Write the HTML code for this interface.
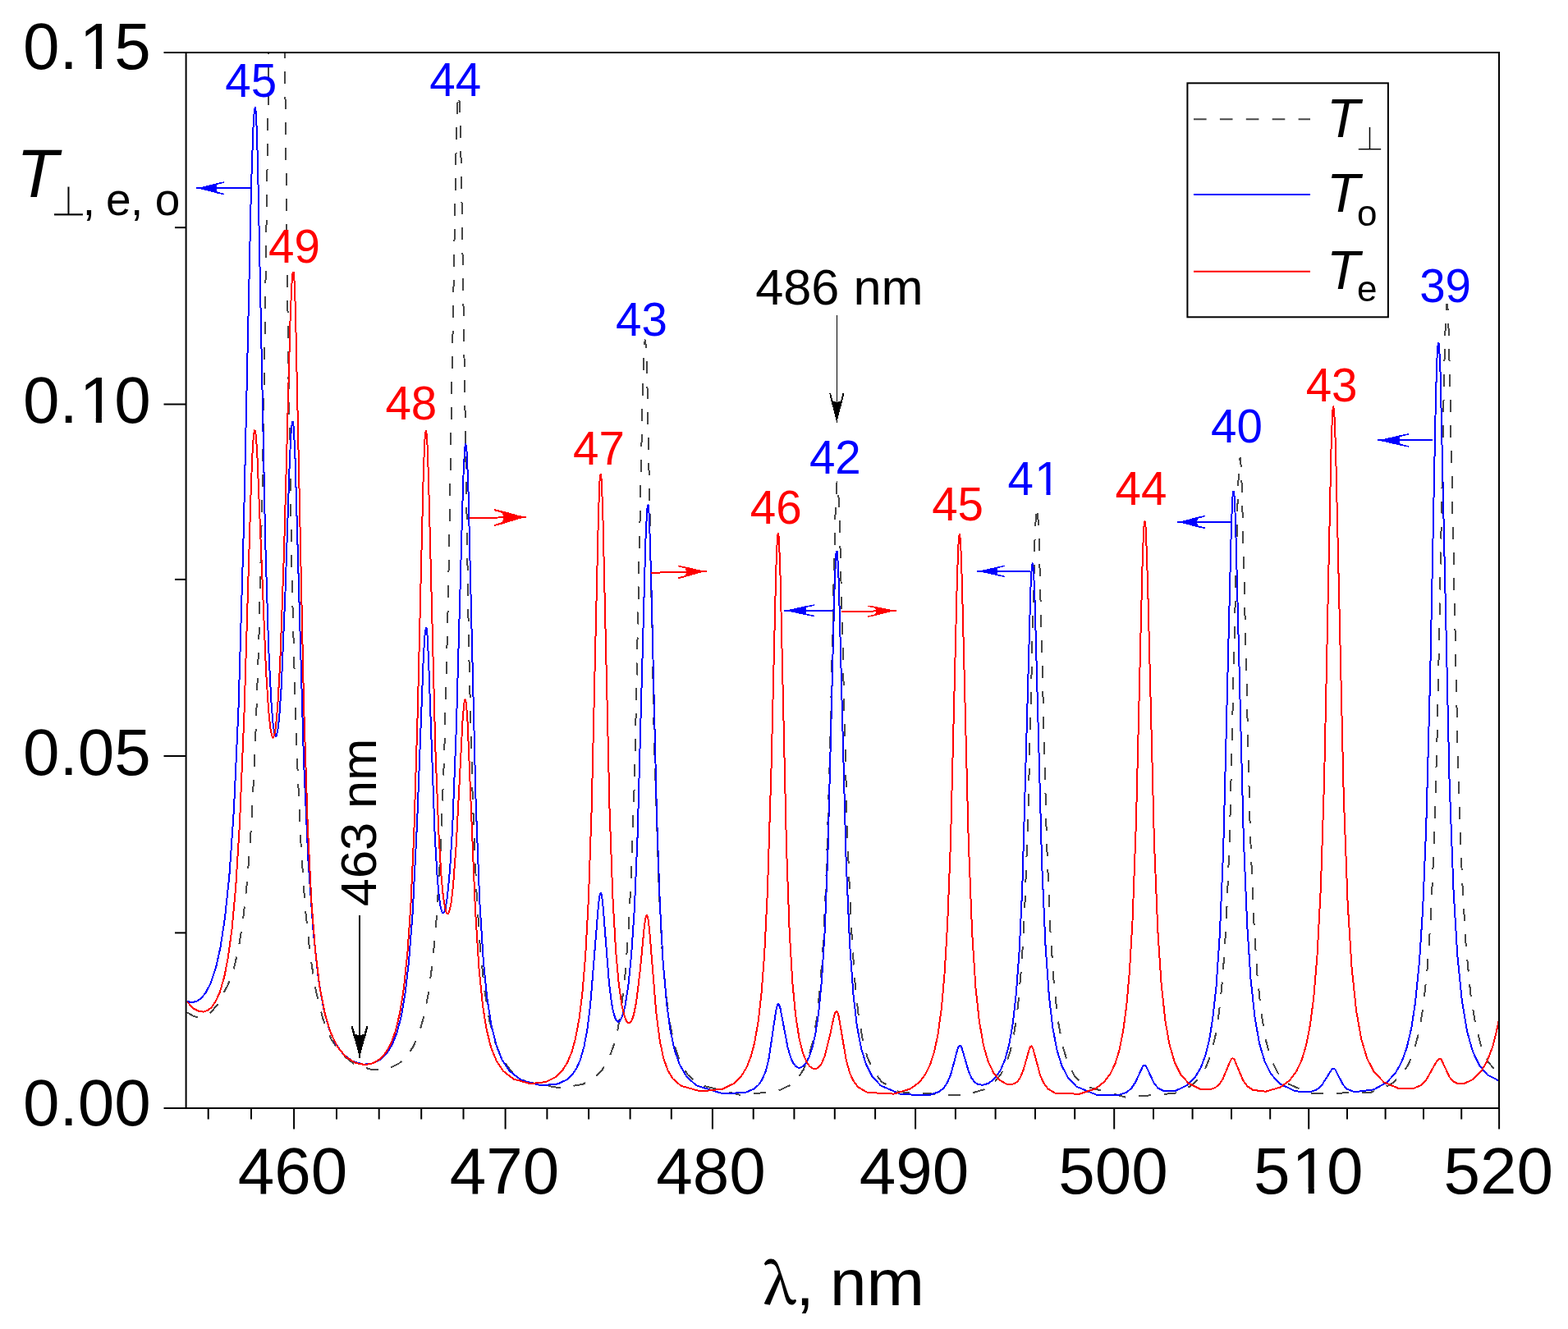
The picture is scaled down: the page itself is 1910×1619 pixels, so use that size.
<!DOCTYPE html>
<html><head><meta charset="utf-8"><title>Transmission spectra</title><style>
html,body{margin:0;padding:0;background:#fff;}
svg{display:block;}
</style></head><body>
<svg width="1910" height="1619" viewBox="0 0 1910 1619">
<rect width="1910" height="1619" fill="#fff"/>
<defs><mask id="m1" maskUnits="userSpaceOnUse" x="0" y="0" width="1910" height="1619"><rect width="1910" height="1619" fill="#fff"/><rect x="101.8" y="508.1" width="15.0" height="8.5" fill="#000"/><rect x="123.9" y="508.1" width="14.4" height="8.5" fill="#000"/><rect x="101.8" y="76.6" width="15.0" height="8.5" fill="#000"/><rect x="123.9" y="76.6" width="14.4" height="8.5" fill="#000"/><rect x="1578.7" y="1446.7" width="15.0" height="8.5" fill="#000"/><rect x="1600.8" y="1446.7" width="14.4" height="8.5" fill="#000"/><rect x="1263.6" y="597.7" width="10.9" height="6.7" fill="#000"/><rect x="1279.5" y="597.7" width="10.5" height="6.7" fill="#000"/></mask></defs>
<g mask="url(#m1)">
<defs><clipPath id="pc"><rect x="226.6" y="64.0" width="1599.4" height="1286.0"/></clipPath></defs>
<g clip-path="url(#pc)" fill="none" stroke-linejoin="round" shape-rendering="crispEdges">
<path d="M227.5,1233.1 236.2,1238.2 243.2,1239.5 249.5,1238.3 256.6,1233.8 265.2,1223.4 277.8,1199.4 284.9,1179.5 290.4,1156.5 295.8,1122.4 301.3,1071.6 306.0,1007.6 310.7,914.8 315.4,777.4 320.1,571.7 326.4,146.8 333.4,-444.1 335.0,-532.5 335.8,-562.6 336.5,-581.9 337.3,-589.6 338.1,-584.7 338.9,-565.9 340.4,-490.5 351.4,455.6 356.0,721.6 360.7,894.5 366.2,1022.7 371.6,1104.1 377.9,1164.2 384.9,1207.7 393.4,1241.4 403.5,1266.0 416.0,1284.0 432.3,1296.9 454.0,1303.5 472.5,1302.0 485.7,1295.8 495.7,1286.5 503.4,1274.9 510.4,1258.8 516.5,1237.5 521.9,1210.0 527.3,1169.1 531.9,1116.7 536.6,1038.4 541.2,918.5 545.8,735.2 555.0,206.5 556.6,146.8 557.3,127.8 558.1,117.1 558.9,115.1 559.6,123.7 560.4,142.8 561.9,208.7 571.1,790.0 575.7,971.5 580.3,1083.9 584.9,1154.6 590.3,1206.9 596.4,1244.1 603.3,1270.3 611.7,1290.0 622.4,1304.8 640.8,1317.8 681.9,1325.5 710.0,1320.9 724.4,1312.9 733.5,1303.5 741.1,1290.7 747.2,1274.8 752.5,1253.8 757.0,1227.0 761.5,1187.0 765.3,1137.1 769.1,1063.2 772.9,952.6 782.7,482.8 784.2,433.8 784.9,420.0 785.7,414.4 786.4,417.5 787.2,429.8 788.7,478.7 797.0,908.2 801.5,1058.9 806.0,1149.9 810.6,1205.8 815.8,1246.1 821.8,1274.3 828.6,1293.7 837.6,1309.1 851.1,1321.4 902.1,1334.0 946.8,1329.4 962.4,1322.0 972.1,1313.1 978.8,1302.8 984.7,1288.6 989.9,1269.3 994.4,1244.0 998.8,1204.8 1002.5,1154.2 1006.2,1076.7 1010.7,929.2 1017.3,632.0 1018.8,595.3 1019.6,587.5 1020.3,587.4 1021.0,594.4 1022.5,627.6 1032.1,1014.9 1036.6,1124.6 1041.0,1192.1 1045.4,1234.4 1050.6,1265.6 1056.5,1287.8 1063.9,1304.7 1074.2,1318.1 1094.8,1330.2 1173.2,1334.7 1199.5,1327.0 1211.1,1318.7 1219.1,1308.7 1225.7,1295.6 1230.8,1279.9 1235.8,1255.8 1240.2,1223.7 1244.6,1173.5 1248.2,1108.4 1252.5,986.0 1260.5,658.4 1262.0,625.5 1262.7,618.4 1263.4,618.1 1264.1,624.6 1265.6,655.6 1275.0,1025.5 1279.3,1131.5 1283.7,1196.9 1288.7,1243.2 1294.5,1274.7 1301.0,1295.7 1309.0,1310.8 1320.5,1322.9 1371.6,1336.8 1431.7,1331.7 1450.3,1323.2 1461.0,1313.1 1468.8,1300.5 1475.2,1283.7 1480.2,1263.5 1485.1,1232.3 1489.4,1190.5 1493.7,1124.8 1497.9,1019.2 1507.8,601.2 1509.3,566.5 1510.0,558.6 1510.7,557.6 1511.4,563.3 1512.8,593.8 1522.7,1007.7 1527.0,1116.5 1531.2,1184.5 1536.2,1233.4 1541.8,1267.1 1548.2,1289.8 1556.0,1306.3 1567.2,1319.5 1596.1,1332.2 1669.7,1330.9 1694.1,1321.2 1706.6,1310.3 1715.0,1297.9 1721.9,1281.4 1728.2,1258.2 1733.8,1225.3 1738.6,1179.9 1742.8,1119.4 1746.9,1025.6 1751.1,879.2 1759.4,442.2 1760.8,393.3 1761.5,378.4 1762.2,370.8 1762.9,370.6 1763.6,377.4 1764.9,409.9 1776.0,931.2 1780.9,1068.3 1785.7,1151.9 1791.2,1209.9 1797.4,1248.9 1804.3,1274.8 1812.6,1293.3 1823.6,1306.9 1825.7,1308.6" stroke="#474747" stroke-width="2" stroke-dasharray="15 16"/>
<path d="M227.5,1220.0 233.8,1221.1 239.3,1219.9 244.8,1216.3 250.3,1209.8 256.6,1197.8 262.9,1179.1 268.4,1154.6 273.9,1118.9 279.4,1066.2 284.9,986.9 290.4,866.1 296.6,653.0 306.0,227.0 308.4,157.2 309.2,143.1 309.9,134.3 310.7,131.0 311.5,135.2 312.3,147.4 313.9,193.8 323.2,659.7 327.2,789.4 330.3,853.8 332.6,882.3 334.2,892.7 335.0,895.5 335.8,896.8 336.5,896.4 337.3,894.4 338.9,885.7 340.4,870.5 342.8,835.3 347.5,721.0 352.9,559.2 354.5,528.7 355.3,519.2 356.0,514.3 356.8,514.1 357.6,519.6 359.2,547.5 370.1,929.0 375.5,1048.5 381.8,1136.6 388.0,1193.2 394.2,1228.9 401.2,1254.2 409.0,1271.7 418.3,1284.4 429.9,1293.1 443.1,1296.7 454.7,1295.3 464.0,1290.3 471.8,1282.4 478.0,1272.0 483.4,1258.4 488.8,1237.8 493.4,1211.3 498.0,1171.7 502.7,1111.3 508.1,1001.6 515.8,800.8 517.3,776.1 518.1,768.7 518.9,764.9 519.6,765.6 520.4,772.0 521.9,799.9 529.6,1015.6 532.7,1069.0 535.0,1093.8 536.6,1104.2 538.1,1110.3 538.9,1111.9 539.6,1112.5 540.4,1112.2 541.2,1111.1 542.7,1106.0 545.0,1091.6 548.1,1058.6 551.2,1007.3 555.8,888.0 564.2,585.0 565.8,552.8 566.5,544.1 567.3,541.0 568.1,544.2 568.8,554.6 570.4,594.6 579.6,976.7 584.2,1096.6 588.8,1170.3 593.4,1216.4 598.7,1250.3 604.9,1274.4 611.7,1291.3 620.9,1304.9 634.7,1315.7 659.1,1322.4 679.6,1320.4 690.3,1315.3 697.1,1309.0 702.4,1301.1 707.0,1290.7 711.5,1274.8 715.3,1254.5 719.1,1224.4 729.0,1102.2 730.5,1091.1 731.3,1088.5 732.0,1088.0 732.8,1090.0 734.3,1101.1 741.9,1196.8 744.9,1221.4 747.2,1233.3 749.4,1240.5 750.9,1243.3 752.5,1244.5 753.2,1244.7 754.7,1243.9 756.2,1241.9 758.5,1236.6 761.5,1224.8 765.3,1201.0 769.1,1163.6 772.9,1105.9 776.6,1018.5 786.4,658.5 788.0,625.1 788.7,616.9 789.5,614.9 790.2,620.2 791.0,632.7 793.2,705.5 800.0,993.3 803.8,1100.3 807.5,1170.0 812.1,1222.6 816.6,1255.4 821.8,1279.6 827.9,1296.9 836.1,1311.1 848.1,1322.3 880.4,1332.3 908.0,1330.9 918.5,1326.5 924.5,1321.1 928.9,1314.1 932.7,1304.9 936.4,1290.3 945.3,1230.8 946.8,1224.7 947.6,1223.3 948.3,1223.3 949.0,1224.1 950.5,1228.3 959.5,1275.7 963.2,1288.5 966.2,1295.0 969.1,1298.8 972.1,1300.5 975.1,1300.5 978.0,1299.0 981.8,1294.8 985.5,1287.8 989.9,1274.6 993.6,1257.7 997.3,1232.4 1001.0,1193.8 1004.7,1133.6 1008.4,1039.0 1016.6,714.0 1018.1,678.9 1018.8,671.5 1019.6,671.5 1020.3,678.4 1021.8,710.7 1030.6,1046.8 1035.1,1150.0 1039.5,1211.9 1043.9,1250.0 1049.1,1277.5 1055.0,1296.7 1062.4,1311.2 1072.7,1322.4 1097.7,1333.1 1131.5,1334.2 1143.2,1330.3 1149.1,1325.8 1153.5,1319.8 1157.9,1309.8 1166.6,1277.6 1168.1,1274.5 1168.8,1273.7 1169.5,1273.6 1170.3,1274.2 1171.7,1277.0 1179.8,1305.0 1183.4,1313.2 1187.1,1318.1 1191.4,1321.0 1197.3,1321.8 1204.6,1319.5 1211.8,1313.7 1218.4,1304.5 1224.2,1291.0 1229.3,1272.2 1233.7,1247.3 1238.0,1208.2 1241.7,1157.5 1245.3,1080.5 1255.4,717.1 1256.2,701.0 1256.9,690.5 1257.6,686.2 1258.3,688.4 1259.1,696.8 1260.5,730.5 1269.2,1053.8 1273.6,1153.3 1277.9,1213.8 1282.2,1251.1 1287.3,1278.4 1293.1,1297.5 1300.3,1311.8 1311.1,1323.6 1335.6,1333.7 1362.3,1334.2 1372.3,1330.6 1378.1,1325.9 1383.1,1318.4 1391.7,1299.8 1393.1,1298.1 1393.8,1297.8 1394.5,1297.7 1396.0,1298.8 1406.0,1320.0 1411.0,1325.8 1418.2,1329.3 1432.4,1328.6 1446.0,1322.1 1455.3,1313.1 1462.4,1301.3 1468.1,1286.4 1473.1,1266.3 1477.3,1240.4 1481.6,1201.0 1485.8,1138.5 1490.1,1037.5 1500.0,637.3 1501.5,605.5 1502.2,598.8 1502.9,598.7 1503.6,604.9 1505.0,634.6 1514.9,1023.6 1519.2,1126.8 1523.4,1191.6 1528.4,1238.5 1534.0,1270.8 1540.4,1292.6 1548.2,1308.3 1558.8,1320.2 1577.8,1329.3 1595.4,1330.3 1603.8,1327.5 1609.5,1323.0 1622.1,1303.0 1623.5,1301.9 1624.9,1301.7 1626.3,1302.7 1636.1,1321.6 1641.0,1326.8 1650.1,1330.3 1673.2,1327.4 1689.2,1318.6 1699.7,1307.4 1707.3,1293.8 1713.6,1276.4 1719.2,1252.7 1724.0,1221.3 1728.9,1172.6 1733.1,1108.0 1737.2,1008.6 1742.1,825.9 1749.0,481.6 1750.4,438.0 1751.1,424.7 1751.8,417.9 1752.5,417.9 1753.2,424.3 1754.6,455.2 1765.6,952.8 1770.5,1084.0 1775.3,1164.1 1780.9,1219.5 1787.1,1256.6 1794.0,1281.1 1802.3,1298.3 1811.9,1309.4 1824.3,1315.8 1825.7,1316.1" stroke="#0000ff" stroke-width="2"/>
<path d="M227.5,1220.0 236.2,1228.9 242.5,1232.1 248.0,1232.6 252.7,1231.0 257.4,1227.4 262.1,1221.0 267.6,1209.2 273.1,1190.6 277.8,1166.7 282.5,1131.9 287.2,1080.6 291.9,1004.7 297.4,871.4 306.0,587.4 307.6,550.4 308.4,537.4 309.2,528.7 309.9,524.4 310.7,524.6 311.5,528.7 313.1,547.8 324.0,817.1 327.2,866.3 329.5,888.3 331.1,896.1 331.8,898.0 332.6,898.5 333.4,897.6 334.2,895.3 335.8,886.4 338.1,862.2 341.2,808.0 345.9,675.4 353.7,384.7 355.3,348.3 356.0,337.2 356.8,331.5 357.6,331.5 358.4,338.8 359.9,376.3 370.1,859.7 374.8,1006.5 379.4,1099.0 384.1,1158.3 389.5,1202.8 395.8,1235.1 402.8,1258.2 411.3,1275.6 421.4,1287.7 433.1,1294.9 444.7,1297.1 454.7,1295.1 463.3,1289.9 470.2,1282.1 476.4,1270.9 481.8,1256.1 487.2,1233.5 491.9,1204.0 496.5,1159.0 500.4,1102.2 504.2,1018.0 508.8,865.1 515.8,575.1 517.3,537.4 518.1,527.6 518.9,524.6 519.6,528.6 520.4,539.4 521.9,578.8 530.4,913.0 534.3,1013.1 537.3,1064.3 539.6,1089.4 541.9,1105.1 543.5,1110.9 544.3,1112.5 545.0,1113.2 545.8,1113.0 546.6,1112.0 548.1,1107.4 549.6,1099.3 551.9,1080.0 555.8,1027.8 563.5,878.5 565.0,859.7 565.8,854.4 566.5,852.3 567.3,853.6 568.1,858.9 569.6,880.7 578.8,1105.5 583.4,1179.0 588.0,1224.9 592.6,1253.9 598.0,1275.6 604.9,1292.7 613.3,1305.0 625.5,1314.5 646.1,1320.2 665.2,1318.0 676.6,1312.3 685.0,1304.2 691.0,1294.6 696.4,1281.8 700.9,1265.6 705.5,1241.2 709.3,1210.8 713.1,1165.3 716.9,1095.3 720.6,987.1 729.0,625.0 730.5,586.5 731.3,578.2 732.0,578.1 732.8,586.3 734.3,625.3 742.6,988.0 746.4,1093.3 750.2,1159.6 754.0,1200.9 757.7,1226.1 760.8,1238.3 763.0,1243.7 764.6,1245.7 766.1,1246.4 766.8,1246.3 768.3,1245.0 769.8,1242.5 772.1,1235.7 775.1,1220.6 779.7,1182.7 784.9,1127.8 786.4,1118.2 787.2,1115.7 788.0,1115.0 788.7,1116.3 789.5,1119.7 791.0,1132.0 799.3,1233.5 803.8,1268.3 808.3,1289.4 813.6,1304.1 819.6,1314.1 829.4,1322.7 853.4,1329.5 880.4,1326.6 893.8,1320.0 902.8,1311.3 909.5,1300.3 914.8,1286.9 919.2,1269.9 923.7,1244.0 927.4,1211.3 931.2,1161.9 934.9,1085.7 939.4,940.6 945.3,692.7 946.8,657.7 947.6,650.1 948.3,650.1 949.0,658.9 950.5,700.7 958.0,1031.9 961.7,1134.6 965.4,1197.6 969.1,1236.6 973.6,1265.5 978.0,1283.0 982.5,1293.6 986.2,1298.9 989.2,1301.3 992.1,1302.2 995.1,1301.6 998.1,1299.4 1001.0,1295.1 1004.7,1286.3 1010.7,1262.5 1015.9,1237.9 1017.3,1233.6 1018.1,1232.4 1018.8,1231.8 1019.6,1232.1 1020.3,1233.3 1021.8,1238.4 1030.6,1290.8 1035.1,1307.0 1039.5,1316.8 1045.4,1324.4 1056.5,1330.9 1088.9,1332.6 1108.8,1326.5 1119.8,1318.5 1127.1,1309.0 1133.0,1297.1 1138.1,1281.0 1142.5,1260.1 1146.9,1228.0 1150.5,1186.9 1154.2,1124.4 1157.9,1028.5 1165.9,704.2 1167.4,665.0 1168.1,654.5 1168.8,650.9 1169.5,654.5 1170.3,664.9 1171.7,703.6 1179.8,1026.3 1184.2,1137.1 1188.5,1203.6 1192.9,1244.3 1198.0,1273.5 1203.8,1293.6 1210.4,1307.1 1217.7,1315.8 1225.7,1320.5 1231.5,1321.3 1235.8,1320.1 1239.5,1317.3 1243.1,1312.0 1246.7,1303.2 1254.0,1277.3 1255.4,1274.7 1256.2,1274.4 1256.9,1274.7 1258.3,1277.3 1267.0,1309.6 1271.4,1319.6 1276.4,1326.3 1285.1,1331.5 1314.7,1332.8 1334.2,1326.3 1345.0,1318.1 1352.9,1307.4 1358.7,1295.0 1363.7,1278.4 1368.0,1257.0 1372.3,1224.6 1375.9,1183.6 1379.5,1122.1 1383.8,1005.6 1391.7,682.1 1393.1,646.1 1393.8,637.1 1394.5,634.8 1395.3,639.1 1396.0,649.8 1398.1,712.9 1406.0,1027.4 1410.3,1133.3 1414.6,1198.6 1419.6,1244.7 1424.6,1272.7 1431.0,1294.5 1438.1,1308.8 1448.1,1319.9 1461.7,1326.6 1473.1,1327.4 1480.2,1325.1 1485.1,1321.0 1489.4,1314.8 1498.6,1292.5 1500.0,1290.3 1500.8,1289.6 1501.5,1289.4 1502.2,1289.5 1503.6,1290.8 1514.2,1316.1 1519.2,1323.1 1526.3,1327.9 1541.8,1329.7 1559.5,1324.5 1570.8,1316.2 1579.2,1305.0 1585.6,1291.5 1591.2,1272.8 1596.1,1247.5 1600.3,1214.5 1604.5,1163.7 1608.8,1083.0 1613.0,953.0 1621.4,550.7 1622.8,509.4 1623.5,498.7 1624.2,495.4 1624.9,499.0 1625.6,509.0 1627.0,545.8 1636.8,971.4 1641.7,1101.5 1646.6,1179.3 1652.2,1232.1 1658.5,1267.0 1665.5,1289.9 1673.9,1306.0 1685.7,1318.3 1704.6,1326.3 1721.3,1326.2 1730.3,1322.4 1737.2,1315.8 1750.4,1292.2 1752.5,1290.1 1753.9,1289.6 1754.6,1289.7 1755.9,1291.1 1765.6,1312.0 1769.8,1317.0 1775.3,1320.0 1783.6,1320.0 1794.7,1314.7 1804.3,1305.0 1811.9,1292.0 1818.8,1273.4 1824.3,1250.2 1825.7,1242.7" stroke="#ff0000" stroke-width="2"/>
</g>
<rect x="226.6" y="64.0" width="1599.4" height="1286.0" fill="none" stroke="#000" stroke-width="2"/>
<line x1="199.5" y1="64.0" x2="226.6" y2="64.0" stroke="#000" stroke-width="2"/>
<line x1="199.5" y1="492.5" x2="226.6" y2="492.5" stroke="#000" stroke-width="2"/>
<line x1="199.5" y1="921.0" x2="226.6" y2="921.0" stroke="#000" stroke-width="2"/>
<line x1="199.5" y1="1350.0" x2="226.6" y2="1350.0" stroke="#000" stroke-width="2"/>
<line x1="213" y1="277.2" x2="226.6" y2="277.2" stroke="#000" stroke-width="2"/>
<line x1="213" y1="705.9" x2="226.6" y2="705.9" stroke="#000" stroke-width="2"/>
<line x1="213" y1="1136.4" x2="226.6" y2="1136.4" stroke="#000" stroke-width="2"/>
<line x1="253.7" y1="1350.0" x2="253.7" y2="1363.5" stroke="#000" stroke-width="2"/>
<line x1="306.0" y1="1350.0" x2="306.0" y2="1363.5" stroke="#000" stroke-width="2"/>
<line x1="358.1" y1="1350.0" x2="358.1" y2="1375.5" stroke="#000" stroke-width="2"/>
<line x1="410.0" y1="1350.0" x2="410.0" y2="1363.5" stroke="#000" stroke-width="2"/>
<line x1="461.7" y1="1350.0" x2="461.7" y2="1363.5" stroke="#000" stroke-width="2"/>
<line x1="513.2" y1="1350.0" x2="513.2" y2="1363.5" stroke="#000" stroke-width="2"/>
<line x1="564.5" y1="1350.0" x2="564.5" y2="1363.5" stroke="#000" stroke-width="2"/>
<line x1="615.6" y1="1350.0" x2="615.6" y2="1375.5" stroke="#000" stroke-width="2"/>
<line x1="666.4" y1="1350.0" x2="666.4" y2="1363.5" stroke="#000" stroke-width="2"/>
<line x1="717.1" y1="1350.0" x2="717.1" y2="1363.5" stroke="#000" stroke-width="2"/>
<line x1="767.6" y1="1350.0" x2="767.6" y2="1363.5" stroke="#000" stroke-width="2"/>
<line x1="817.8" y1="1350.0" x2="817.8" y2="1363.5" stroke="#000" stroke-width="2"/>
<line x1="867.9" y1="1350.0" x2="867.9" y2="1375.5" stroke="#000" stroke-width="2"/>
<line x1="917.7" y1="1350.0" x2="917.7" y2="1363.5" stroke="#000" stroke-width="2"/>
<line x1="967.4" y1="1350.0" x2="967.4" y2="1363.5" stroke="#000" stroke-width="2"/>
<line x1="1016.8" y1="1350.0" x2="1016.8" y2="1363.5" stroke="#000" stroke-width="2"/>
<line x1="1066.1" y1="1350.0" x2="1066.1" y2="1363.5" stroke="#000" stroke-width="2"/>
<line x1="1115.1" y1="1350.0" x2="1115.1" y2="1375.5" stroke="#000" stroke-width="2"/>
<line x1="1163.9" y1="1350.0" x2="1163.9" y2="1363.5" stroke="#000" stroke-width="2"/>
<line x1="1212.6" y1="1350.0" x2="1212.6" y2="1363.5" stroke="#000" stroke-width="2"/>
<line x1="1261.0" y1="1350.0" x2="1261.0" y2="1363.5" stroke="#000" stroke-width="2"/>
<line x1="1309.2" y1="1350.0" x2="1309.2" y2="1363.5" stroke="#000" stroke-width="2"/>
<line x1="1357.2" y1="1350.0" x2="1357.2" y2="1375.5" stroke="#000" stroke-width="2"/>
<line x1="1405.0" y1="1350.0" x2="1405.0" y2="1363.5" stroke="#000" stroke-width="2"/>
<line x1="1452.6" y1="1350.0" x2="1452.6" y2="1363.5" stroke="#000" stroke-width="2"/>
<line x1="1500.0" y1="1350.0" x2="1500.0" y2="1363.5" stroke="#000" stroke-width="2"/>
<line x1="1547.2" y1="1350.0" x2="1547.2" y2="1363.5" stroke="#000" stroke-width="2"/>
<line x1="1594.2" y1="1350.0" x2="1594.2" y2="1375.5" stroke="#000" stroke-width="2"/>
<line x1="1641.0" y1="1350.0" x2="1641.0" y2="1363.5" stroke="#000" stroke-width="2"/>
<line x1="1687.6" y1="1350.0" x2="1687.6" y2="1363.5" stroke="#000" stroke-width="2"/>
<line x1="1734.0" y1="1350.0" x2="1734.0" y2="1363.5" stroke="#000" stroke-width="2"/>
<line x1="1780.2" y1="1350.0" x2="1780.2" y2="1363.5" stroke="#000" stroke-width="2"/>
<line x1="1826.1" y1="1350.0" x2="1826.1" y2="1375.5" stroke="#000" stroke-width="2"/>
<text x="28.0" y="1371.3" font-size="80" fill="#000" font-family="'Liberation Sans', Arial, sans-serif">0.00</text>
<text x="28.0" y="944.3" font-size="80" fill="#000" font-family="'Liberation Sans', Arial, sans-serif">0.05</text>
<text x="28.0" y="515.3" font-size="80" fill="#000" font-family="'Liberation Sans', Arial, sans-serif">0.<tspan dx="2.00">1</tspan><tspan dx="-2.00">0</tspan></text>
<text x="28.0" y="83.8" font-size="80" fill="#000" font-family="'Liberation Sans', Arial, sans-serif">0.<tspan dx="2.00">1</tspan><tspan dx="-2.00">5</tspan></text>
<text x="289.8" y="1453.9" font-size="80" fill="#000" font-family="'Liberation Sans', Arial, sans-serif">460</text>
<text x="547.8" y="1453.9" font-size="80" fill="#000" font-family="'Liberation Sans', Arial, sans-serif">470</text>
<text x="799.2" y="1453.9" font-size="80" fill="#000" font-family="'Liberation Sans', Arial, sans-serif">480</text>
<text x="1046.8" y="1453.9" font-size="80" fill="#000" font-family="'Liberation Sans', Arial, sans-serif">490</text>
<text x="1289.2" y="1453.9" font-size="80" fill="#000" font-family="'Liberation Sans', Arial, sans-serif">500</text>
<text x="1527.1" y="1453.9" font-size="80" fill="#000" font-family="'Liberation Sans', Arial, sans-serif">5<tspan dx="2.00">1</tspan><tspan dx="-2.00">0</tspan></text>
<text x="1758.4" y="1453.9" font-size="80" fill="#000" font-family="'Liberation Sans', Arial, sans-serif">520</text>
<text x="19.9" y="240" font-size="83" font-style="italic" font-family="'Liberation Sans', Arial, sans-serif">T</text>
<text x="61.2" y="262.6" font-size="51.5" stroke="#fff" stroke-width="1.1" font-family="'DejaVu Sans', sans-serif">⊥</text>
<text x="100.7" y="261.5" font-size="55" font-family="'Liberation Sans', Arial, sans-serif">,</text>
<text x="129" y="261.5" font-size="55" font-family="'Liberation Sans', Arial, sans-serif">e</text>
<text x="159.1" y="261.5" font-size="55" font-family="'Liberation Sans', Arial, sans-serif">,</text>
<text x="188.7" y="261.5" font-size="55" font-family="'Liberation Sans', Arial, sans-serif">o</text>
<text x="929.9" y="1588.1" font-size="67" stroke="#000" stroke-width="1.2" font-family="'Noto Serif CJK SC', 'DejaVu Serif', serif">λ</text>
<text y="1589.7" font-size="80" font-family="'Liberation Sans', Arial, sans-serif"><tspan x="969.6">,</tspan><tspan x="1011">n</tspan><tspan x="1055.3" textLength="71" lengthAdjust="spacingAndGlyphs">m</tspan></text>
<rect x="1446.4" y="101.3" width="244.5" height="285" fill="#fff" stroke="#000" stroke-width="2"/>
<line x1="1454" y1="145.3" x2="1596" y2="145.3" stroke="#474747" stroke-width="2" stroke-dasharray="15.6 16.3"/>
<line x1="1454" y1="237" x2="1596" y2="237" stroke="#0000ff" stroke-width="2"/>
<line x1="1454" y1="330.7" x2="1596" y2="330.7" stroke="#ff0000" stroke-width="2"/>
<text x="1615.9" y="166.9" font-size="66" font-style="italic" font-family="'Liberation Sans', Arial, sans-serif">T</text>
<text x="1615.9" y="258.1" font-size="66" font-style="italic" font-family="'Liberation Sans', Arial, sans-serif">T</text>
<text x="1615.9" y="352.2" font-size="66" font-style="italic" font-family="'Liberation Sans', Arial, sans-serif">T</text>
<text x="1650.8" y="182.6" font-size="40.5" stroke="#fff" stroke-width="0.8" font-family="'DejaVu Sans', sans-serif">⊥</text>
<text x="1653" y="275.3" font-size="44" font-family="'Liberation Sans', Arial, sans-serif">o</text>
<text x="1652.9" y="366.5" font-size="44" font-family="'Liberation Sans', Arial, sans-serif">e</text>
<text x="274.3" y="117.6" font-size="56.5" fill="#0000ff" font-family="'Liberation Sans', Arial, sans-serif">45</text>
<text x="523.3" y="117.3" font-size="56.5" fill="#0000ff" font-family="'Liberation Sans', Arial, sans-serif">44</text>
<text x="750.1" y="409.1" font-size="56.5" fill="#0000ff" font-family="'Liberation Sans', Arial, sans-serif">43</text>
<text x="985.9" y="577.0" font-size="56.5" fill="#0000ff" font-family="'Liberation Sans', Arial, sans-serif">42</text>
<text x="1227.5" y="603.1" font-size="56.5" fill="#0000ff" font-family="'Liberation Sans', Arial, sans-serif">4<tspan dx="1.41">1</tspan></text>
<text x="1475.1" y="538.6" font-size="56.5" fill="#0000ff" font-family="'Liberation Sans', Arial, sans-serif">40</text>
<text x="1729.2" y="368.4" font-size="56.5" fill="#0000ff" font-family="'Liberation Sans', Arial, sans-serif">39</text>
<text x="327.0" y="320.1" font-size="56.5" fill="#ff0000" font-family="'Liberation Sans', Arial, sans-serif">49</text>
<text x="469.4" y="511.4" font-size="56.5" fill="#ff0000" font-family="'Liberation Sans', Arial, sans-serif">48</text>
<text x="698.1" y="565.5" font-size="56.5" fill="#ff0000" font-family="'Liberation Sans', Arial, sans-serif">47</text>
<text x="913.8" y="637.5" font-size="56.5" fill="#ff0000" font-family="'Liberation Sans', Arial, sans-serif">46</text>
<text x="1135.2" y="634.4" font-size="56.5" fill="#ff0000" font-family="'Liberation Sans', Arial, sans-serif">45</text>
<text x="1358.5" y="614.8" font-size="56.5" fill="#ff0000" font-family="'Liberation Sans', Arial, sans-serif">44</text>
<text x="1590.7" y="489.0" font-size="56.5" fill="#ff0000" font-family="'Liberation Sans', Arial, sans-serif">43</text>
<text x="920.2" y="371.3" font-size="61.3" fill="#000" font-family="'Liberation Sans', Arial, sans-serif">486 nm</text>
<text transform="translate(457.7 1104.2) rotate(-90)" x="0" y="0" font-size="61.3" font-family="'Liberation Sans', Arial, sans-serif">463 nm</text>
<g shape-rendering="crispEdges"><line x1="306.2" y1="229.3" x2="239.4" y2="229.3" stroke="#0000ff" stroke-width="2"/><path d="M239.4,229.3 L249.6,227.0 L263.9,223.2 L273.4,221.1 L273.4,222.7 L264.6,225.0 L263.5,228.8 L263.5,229.8 L264.6,233.6 L273.4,235.9 L273.4,237.5 L263.9,235.4 L249.6,231.6 L239.4,229.3 Z" fill="#0000ff"/></g>
<g shape-rendering="crispEdges"><line x1="572.5" y1="631.0" x2="640.9" y2="630.0" stroke="#ff0000" stroke-width="2"/><path d="M640.9,630.0 L629.2,633.1 L612.9,638.2 L602.1,641.1 L602.0,639.0 L612.1,635.9 L613.2,631.0 L613.2,629.8 L612.0,625.0 L601.8,622.2 L601.8,620.1 L612.7,622.6 L629.2,627.2 L640.9,630.0 Z" fill="#ff0000"/></g>
<g shape-rendering="crispEdges"><line x1="793.0" y1="697.8" x2="860.8" y2="695.9" stroke="#ff0000" stroke-width="2"/><path d="M860.8,695.9 L850.4,698.5 L835.8,702.7 L826.0,705.2 L826.0,703.5 L835.0,700.9 L836.0,697.1 L835.9,696.1 L834.8,692.3 L825.6,690.2 L825.6,688.6 L835.4,690.5 L850.2,693.9 L860.8,695.9 Z" fill="#ff0000"/></g>
<g shape-rendering="crispEdges"><line x1="1016.2" y1="743.8" x2="954.6" y2="743.8" stroke="#0000ff" stroke-width="2"/><path d="M954.6,743.8 L965.9,741.7 L981.7,738.2 L992.3,736.3 L992.3,737.8 L982.5,739.9 L981.4,743.3 L981.4,744.2 L982.5,747.7 L992.3,749.8 L992.3,751.3 L981.7,749.3 L965.9,745.9 L954.6,743.8 Z" fill="#0000ff"/></g>
<g shape-rendering="crispEdges"><line x1="1024.6" y1="745.5" x2="1092.0" y2="743.8" stroke="#ff0000" stroke-width="2"/><path d="M1092.0,743.8 L1081.6,746.1 L1066.9,749.8 L1057.2,752.0 L1057.2,750.5 L1066.2,748.2 L1067.2,744.9 L1067.1,744.0 L1066.0,740.7 L1056.9,738.8 L1056.8,737.4 L1066.7,739.0 L1081.5,742.0 L1092.0,743.8 Z" fill="#ff0000"/></g>
<g shape-rendering="crispEdges"><line x1="1255.4" y1="695.9" x2="1190.1" y2="695.9" stroke="#0000ff" stroke-width="2"/><path d="M1190.1,695.9 L1200.3,693.9 L1214.6,690.6 L1224.1,688.7 L1224.1,690.1 L1215.3,692.2 L1214.2,695.5 L1214.2,696.3 L1215.3,699.6 L1224.1,701.7 L1224.1,703.1 L1214.6,701.2 L1200.3,697.9 L1190.1,695.9 Z" fill="#0000ff"/></g>
<g shape-rendering="crispEdges"><line x1="1500.4" y1="636.0" x2="1434.0" y2="636.0" stroke="#0000ff" stroke-width="2"/><path d="M1434.0,636.0 L1444.2,633.7 L1458.4,629.9 L1467.9,627.8 L1467.9,629.4 L1459.1,631.7 L1458.1,635.5 L1458.1,636.5 L1459.1,640.3 L1467.9,642.6 L1467.9,644.2 L1458.4,642.1 L1444.2,638.3 L1434.0,636.0 Z" fill="#0000ff"/></g>
<g shape-rendering="crispEdges"><line x1="1745.4" y1="536.4" x2="1677.5" y2="536.4" stroke="#0000ff" stroke-width="2"/><path d="M1677.5,536.4 L1688.9,534.1 L1704.9,530.3 L1715.5,528.2 L1715.5,529.8 L1705.6,532.1 L1704.5,535.9 L1704.5,536.9 L1705.6,540.7 L1715.5,543.0 L1715.5,544.6 L1704.9,542.5 L1688.9,538.7 L1677.5,536.4 Z" fill="#0000ff"/></g>
<g shape-rendering="crispEdges"><line x1="1019.3" y1="384.0" x2="1019.3" y2="515.4" stroke="#000000" stroke-width="1.5"/><path d="M1019.3,515.4 L1016.8,504.6 L1012.6,489.5 L1010.3,479.4 L1012.1,479.4 L1014.6,488.8 L1018.8,489.8 L1019.8,489.8 L1024.0,488.8 L1026.5,479.4 L1028.3,479.4 L1026.0,489.5 L1021.8,504.6 L1019.3,515.4 Z" fill="#000000"/></g>
<g shape-rendering="crispEdges"><line x1="438.0" y1="1115.3" x2="438.0" y2="1288.7" stroke="#000000" stroke-width="1.5"/><path d="M438.0,1288.7 L435.1,1277.0 L430.2,1260.6 L427.5,1249.7 L429.6,1249.7 L432.5,1259.8 L437.4,1261.0 L438.6,1261.0 L443.5,1259.8 L446.4,1249.7 L448.5,1249.7 L445.8,1260.6 L440.9,1277.0 L438.0,1288.7 Z" fill="#000000"/></g>
</g>
</svg></body></html>
